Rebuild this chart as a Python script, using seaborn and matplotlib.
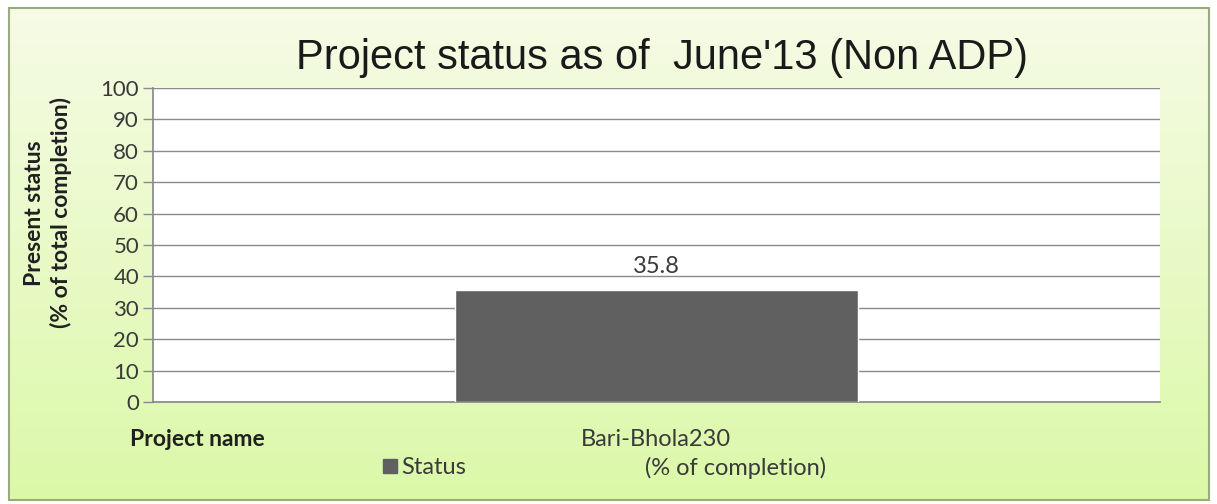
import numpy as np
import pandas as pd
import matplotlib
matplotlib.use("Agg")
import matplotlib.pyplot as plt
from matplotlib.patches import Rectangle
from matplotlib.lines import Line2D
import seaborn as sns

# ---- data ----
projects = ["Bari-Bhola230"]
status_values = [35.8]
series_name = "Status"
series_note = "(% of completion)"
title = "Project status as of  June'13 (Non ADP)"
y_label = "Present status\n(% of total completion)"
x_label = "Project name"
y_ticks = list(range(0, 101, 10))

df = pd.DataFrame({"project": projects, "status": status_values})

sns.set_theme(style="white")
plt.rcParams["font.family"] = ["Lato", "DejaVu Sans"]

W, H = 1217, 504
fig = plt.figure(figsize=(W / 100, H / 100), dpi=100)
fig.patch.set_facecolor("white")

# background gradient chart area
bg = fig.add_axes([0, 0, 1, 1], zorder=0)
bg.set_xlim(0, W)
bg.set_ylim(H, 0)
bg.axis("off")
top = np.array([0.965, 0.985, 0.90])
bot = np.array([0.86, 0.975, 0.66])
t = np.linspace(0, 1, 256)[:, None, None]
grad = top * (1 - t) + bot * t
grad = np.repeat(grad, 2, axis=1)
bg.imshow(grad, extent=[9, 1209, 500, 8], aspect="auto", zorder=0)
bg.add_patch(Rectangle((9, 8), 1200, 492, fill=False, edgecolor="#9aaa80", lw=1.5, zorder=1))

# plot area
x0, x1, y0, y1 = 153, 1160, 88, 402
ax = fig.add_axes([x0 / W, 1 - y1 / H, (x1 - x0) / W, (y1 - y0) / H], zorder=2)
ax.set_facecolor("white")
sns.barplot(data=df, x="project", y="status", color="#606060", width=0.4,
            saturation=1, ax=ax, zorder=3)
ax.set_xlim(-0.5, 0.5)
ax.set_ylim(0, 100)
ax.set_yticks(y_ticks)
ax.set_yticklabels([str(v) for v in y_ticks], fontsize=16, color="#3a3a3a")
ax.yaxis.grid(True, color="#8a8a8a", lw=1.0, zorder=0)
ax.set_axisbelow(True)
for s in ["top", "right"]:
    ax.spines[s].set_visible(False)
ax.spines["left"].set_color("#8a8a8a")
ax.spines["bottom"].set_color("#8a8a8a")
ax.tick_params(axis="y", length=7, width=1, color="#8a8a8a", direction="out", left=True, pad=3)
ax.tick_params(axis="x", length=0)
ax.set_xticklabels([])
ax.set_xlabel("")
ax.set_ylabel("")

# bar labels
for c in ax.containers:
    ax.bar_label(c, labels=[f"{v:.1f}" for v in status_values], padding=9,
                 fontsize=17, color="#3a3a3a")

# texts
fig.text(662 / W, 1 - 58 / H, title, ha="center", va="center", fontsize=30,
         family=["Liberation Sans", "DejaVu Sans"], color="#1a1a1a")
fig.text(48 / W, 1 - 213 / H, y_label, ha="center", va="center", rotation=90,
         fontsize=16.5, fontweight="bold", color="#202020", linespacing=1.25)
fig.text(130 / W, 1 - 439 / H, x_label, ha="left", va="center", fontsize=16.5,
         fontweight="bold", color="#202020")
fig.text(656 / W, 1 - 439 / H, projects[0], ha="center", va="center", fontsize=17,
         color="#3a3a3a")

handle = Line2D([], [], marker="s", color="none", markerfacecolor="#606060",
                markeredgecolor="#606060", markersize=10)
fig.legend([handle], [series_name], loc="center left", bbox_to_anchor=(378 / W, 1 - 468 / H),
           frameon=False, fontsize=17, handletextpad=0.0, handlelength=1.0,
           labelcolor="#3a3a3a", borderaxespad=0, borderpad=0)
fig.text(645 / W, 1 - 468 / H, series_note, ha="left", va="center", fontsize=17,
         color="#3a3a3a")

fig.savefig("out.png", dpi=100)
